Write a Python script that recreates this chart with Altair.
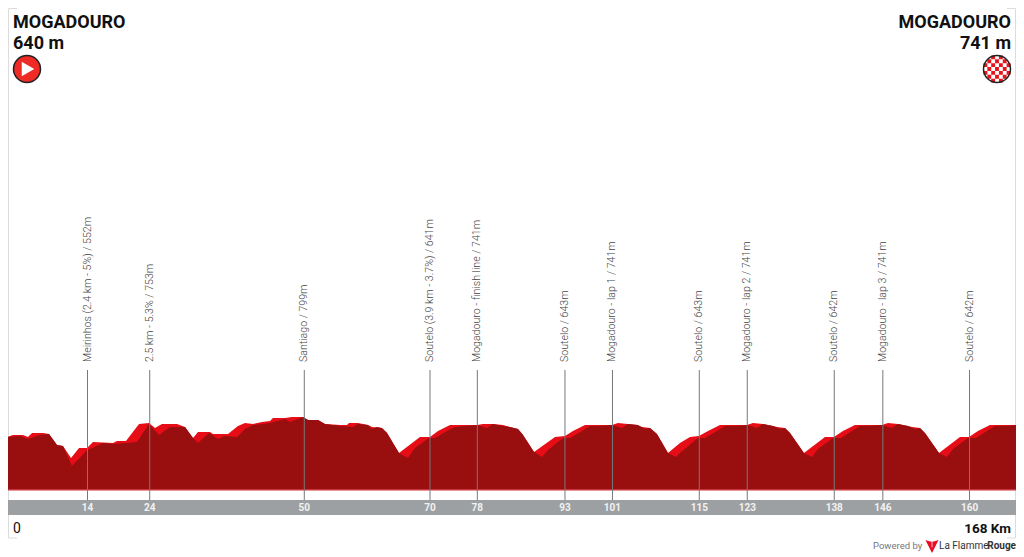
import altair as alt
import pandas as pd

back_km = [0,1.0,2.66,3.49,4.16,5.99,6.99,8.32,9.31,10.65,11.98,13.31,14.3,17.63,18.3,19.79,21.96,23.62,24.62,25.78,27.11,28.28,29.61,30.94,31.77,33.77,34.26,36.26,36.76,38.42,39.59,40.92,42.41,43.75,44.24,46.24,47.4,49.23,50.07,51.73,52.89,55.39,56.55,56.89,58.38,60.04,60.71,62.37,63.21,65.2,68.69,70.36,71.69,73.69,75.85,76.35,78.18,79.18,80.84,82.5,83.66,85.0,85.83,87.66,91.15,92.81,94.14,96.14,98.13,98.63,100.63,101.63,103.29,104.79,105.62,106.95,108.11,109.94,111.94,113.6,115.1,116.6,118.6,120.76,121.09,123.08,124.08,125.75,127.41,128.08,129.4,130.24,132.56,136.06,137.55,139.05,141.05,143.04,143.54,145.54,146.54,148.2,149.86,150.53,151.86,152.69,155.02,158.51,160.01,161.5,163.5,165.5,166.0,168]
back_m = [640,656,656,640,673,673,665,574,566,468,550,550,599,591,607,607,747,755,714,747,747,747,722,632,681,681,665,665,665,730,755,747,763,771,796,796,804,804,779,779,747,738,738,755,755,738,722,714,673,509,640,640,689,738,738,738,738,747,747,738,722,706,656,517,640,648,689,738,738,738,738,755,747,738,722,714,665,509,591,640,648,689,738,738,738,738,755,747,730,722,714,673,509,640,640,689,738,738,738,738,755,747,730,722,714,673,509,640,640,689,738,738,738,738]
front_km = [0,2.16,3.49,5.49,6.99,8.32,9.31,10.81,13.31,13.81,15.97,17.63,19.79,21.62,23.62,25.28,27.11,29.61,30.94,31.77,33.6,35.1,36.26,38.26,39.59,40.92,43.75,46.24,47.07,49.23,50.07,51.73,52.89,55.39,57.55,58.38,60.04,60.71,61.54,62.37,63.21,65.2,66.7,67.86,70.19,71.19,73.19,74.52,76.35,78.18,79.84,80.84,82.5,83.66,85.0,85.83,87.66,88.99,89.98,92.48,93.64,95.64,96.97,98.63,100.63,102.29,103.29,104.95,106.12,106.95,108.11,109.94,111.27,111.94,114.93,116.1,118.1,119.43,121.09,123.08,124.75,125.75,127.41,128.58,129.4,130.24,132.56,133.9,134.9,137.39,138.72,140.55,141.88,143.54,145.54,147.2,148.2,149.86,151.03,151.86,152.69,155.02,156.35,157.34,159.84,161.17,163.0,164.33,166.0,168]
front_m = [640,648,624,656,665,574,566,402,533,542,591,583,591,599,747,656,722,722,632,591,673,624,648,640,706,738,755,788,763,804,779,779,747,730,722,747,738,706,722,714,673,509,468,550,632,632,689,722,730,738,714,747,730,722,706,656,517,476,533,632,632,689,730,730,738,714,747,738,706,714,665,509,476,509,632,632,689,730,730,738,714,747,730,706,714,673,509,476,542,632,632,689,730,730,738,714,747,730,706,714,673,509,476,542,632,632,689,730,730,738]

mark_km = [13.39,23.74,49.45,70.36,78.23,92.81,100.71,115.15,123.13,137.6,145.68,160.1]
mark_tick = ["14","24","50","70","78","93","101","115","123","138","146","160"]
mark_text = ["Meirinhos (2.4 km - 5%) / 552m","2.5 km - 5.3% / 753m","Santiago / 799m",
             "Soutelo (3.9 km - 3.7%) / 641m","Mogadouro - finish line / 741m","Soutelo / 643m",
             "Mogadouro - lap 1 / 741m","Soutelo / 643m","Mogadouro - lap 2 / 741m",
             "Soutelo / 642m","Mogadouro - lap 3 / 741m","Soutelo / 642m"]
BASE_M = 205
TOTAL_KM = 168

W, H = 1008, 546
xs = alt.Scale(domain=[0.166, 167.83], nice=False, zero=False)
ys = alt.Scale(domain=[-319.4, 4158], nice=False, zero=False)
X = alt.X("km:Q", scale=xs, axis=None)
Y = alt.Y("m:Q", scale=ys, axis=None)

df_back = pd.DataFrame({"km": back_km, "m": back_m, "b": BASE_M})
df_front = pd.DataFrame({"km": front_km, "m": front_m, "b": BASE_M})
df_mark = pd.DataFrame({"km": mark_km, "tick": mark_tick, "label": mark_text})
df_band = pd.DataFrame({"km": [0], "end": [TOTAL_KM]})
one = pd.DataFrame({"a": [0]})

area_back = alt.Chart(df_back).mark_area(color="#e60d17", opacity=1).encode(X, Y, y2="b:Q")
area_front = alt.Chart(df_front).mark_area(color="#990f0f", opacity=1).encode(X, Y, y2="b:Q")
base_line = alt.Chart(df_band).mark_rect(color="#c8343a").encode(X, x2="end:Q", y=alt.value(481), y2=alt.value(482.5))
band = alt.Chart(df_band).mark_rect(color="#9da0a2").encode(X, x2="end:Q", y=alt.value(492), y2=alt.value(507))
rules = alt.Chart(df_mark).mark_rule(color="#77787a", strokeWidth=1).encode(X, y=alt.value(362), y2=alt.value(492))
labels = alt.Chart(df_mark).mark_text(angle=270, align="left", baseline="middle", font="Roboto", fontSize=10.6,
                                      fontWeight=300, color="#444444").encode(X, y=alt.value(354), text="label:N")
ticks = alt.Chart(df_mark).mark_text(align="center", baseline="middle", font="Roboto", fontWeight="bold",
                                     fontSize=10, color="#f2f2f2").encode(X, y=alt.value(499.5), text="tick:N")


def txt(s, x, y, size, align="left", weight="bold", font="Roboto", color="#111111"):
    return alt.Chart(one).mark_text(text=s, align=align, baseline="middle", font=font, fontSize=size,
                                    fontWeight=weight, color=color).encode(x=alt.value(x), y=alt.value(y))


def sym(x, y, size, shape, fill=None, stroke=None, sw=1.5):
    kw = {"shape": shape, "size": size, "filled": fill is not None, "opacity": 1}
    if fill is not None:
        kw["fill"] = fill
    if stroke is not None:
        kw["stroke"] = stroke
        kw["strokeWidth"] = sw
    else:
        kw["strokeWidth"] = 0
    return alt.Chart(one).mark_point(**kw).encode(x=alt.value(x), y=alt.value(y))


def frame(x1, y1, x2, y2):
    return alt.Chart(one).mark_rule(color="#dcdcdc", strokeWidth=1).encode(
        x=alt.value(x1), x2=alt.value(x2), y=alt.value(y1), y2=alt.value(y2))


# checker path for the finish badge, in the unit square [-1, 1] that Vega scales
n = 7
cell = 2.0 / n
parts = []
for i in range(n):
    for j in range(n):
        if (i + j) % 2 == 0:
            cx = -1 + (i + 0.5) * cell
            cy = -1 + (j + 0.5) * cell
            if cx * cx + cy * cy < 0.95:
                a, b = -1 + i * cell, -1 + j * cell
                parts.append(f"M{a:.3f},{b:.3f}h{cell:.3f}v{cell:.3f}h{-cell:.3f}z")
checker = "".join(parts)
logo = "M-1,-1L-0.3,-0.75L0.3,-0.75L1,-1L0,1Z"
logo_bar = "M-0.12,-1L0.12,-1L0.12,1L-0.12,1Z"

layers = [
    frame(0.5, 0.5, 9, 0.5), frame(0.5, 0.5, 0.5, 530), frame(0.5, 530, 9, 530),
    frame(999, 0.5, 1007.5, 0.5), frame(1007.5, 0.5, 1007.5, 530), frame(999, 530, 1007.5, 530),
    area_back, area_front, base_line, band, rules, labels, ticks,
    txt("MOGADOURO", 5, 14.5, 18),
    txt("640 m", 5, 36, 18),
    txt("MOGADOURO", 1003, 14.5, 18, align="right"),
    txt("741 m", 1003, 36, 18, align="right"),
    txt("0", 5, 521, 14, weight="normal"),
    txt("168 Km", 1003, 521, 13.5, align="right"),
    sym(19, 61, 729, "circle", fill="#ee2b24", stroke="#222222", sw=1.5),
    sym(20, 61, 210, "triangle-right", fill="#ffffff"),
    sym(989, 61, 729, "circle", fill="#ffffff"),
    sym(989, 61, 729, checker, fill="#e8141c"),
    sym(989, 61, 729, "circle", stroke="#222222", sw=1.5),
    txt("Powered by", 865, 538, 9.5, weight="normal", color="#777777"),
    sym(924, 538.5, 170, logo, fill="#e60d25"),
    sym(924, 536, 40, logo_bar, fill="#ffffff"),
    txt("La Flamme", 931, 538, 10, weight="normal", color="#333333"),
    txt("Rouge", 1008, 538, 10, align="right", color="#333333"),
]

chart = alt.layer(*layers).properties(
    width=W, height=H, padding=0, autosize=alt.AutoSizeParams(type="none"), background="#ffffff"
).configure_view(stroke=None)

chart.save("out.html", embed_options={"renderer": "svg", "actions": False})
